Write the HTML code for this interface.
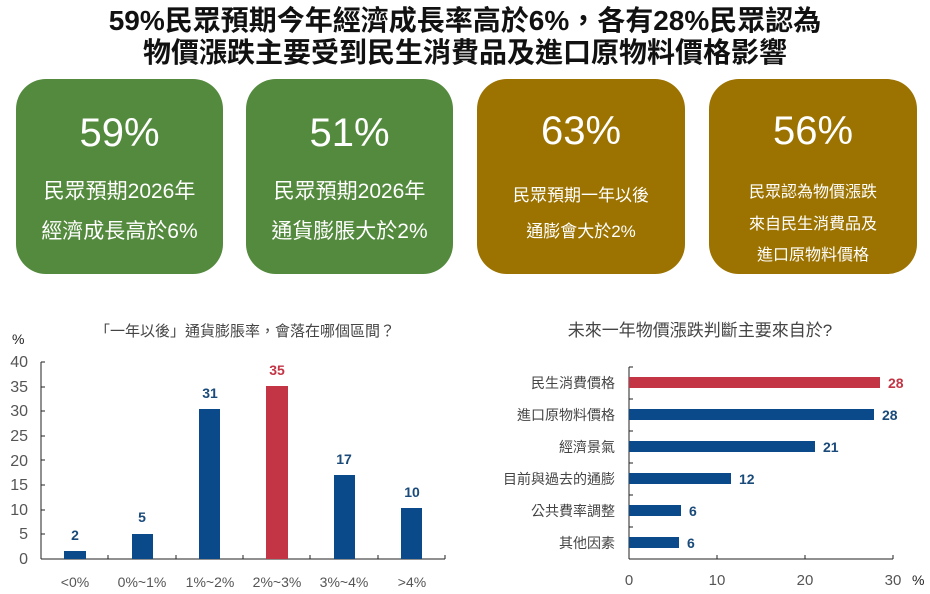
<!DOCTYPE html>
<html><head><meta charset="utf-8"><style>
body{margin:0;width:930px;height:594px;background:#fff;position:relative;overflow:hidden;font-family:"Liberation Sans","Noto Sans CJK TC",sans-serif}
.t{position:absolute;left:0;width:930px;text-align:center;font-weight:bold;font-size:28px;color:#111;line-height:30px}
.card{position:absolute;top:79px;width:207px;height:195px;border-radius:30px;color:#fff;text-align:center}
.g{background:#548a3e}.y{background:#9c7300}
.big{position:absolute;left:0;right:0;font-size:40px;line-height:44px}
.s{position:absolute;left:0;right:0;font-size:21px;line-height:24px}
.s2{font-size:17px}.s3{font-size:16px}
</style></head><body>
<div class="t" style="top:6px">59%民眾預期今年經濟成長率高於6%，各有28%民眾認為</div>
<div class="t" style="top:38px">物價漲跌主要受到民生消費品及進口原物料價格影響</div>
<div class="card g" style="left:16px"><div class="big" style="top:32px">59%</div><div class="s" style="top:101px">民眾預期2026年</div><div class="s" style="top:141px">經濟成長高於6%</div></div>
<div class="card g" style="left:246px"><div class="big" style="top:32px">51%</div><div class="s" style="top:101px">民眾預期2026年</div><div class="s" style="top:141px">通貨膨脹大於2%</div></div>
<div class="card y" style="left:477px;width:208px"><div class="big" style="top:30px">63%</div><div class="s s2" style="top:105px">民眾預期一年以後</div><div class="s s2" style="top:141px">通膨會大於2%</div></div>
<div class="card y" style="left:709px;width:208px"><div class="big" style="top:30px">56%</div><div class="s s3" style="top:102px">民眾認為物價漲跌</div><div class="s s3" style="top:134px">來自民生消費品及</div><div class="s s3" style="top:165px">進口原物料價格</div></div>
<svg width="930" height="594" style="position:absolute;left:0;top:0" font-family="Liberation Sans, Noto Sans CJK TC, sans-serif">
<text x="245" y="336" text-anchor="middle" font-size="15" fill="#444">「一年以後」通貨膨脹率，會落在哪個區間？</text>
<text x="12" y="344" font-size="14" fill="#222">%</text>
<g font-size="16" fill="#555" text-anchor="end">
<text x="28" y="564">0</text><text x="28" y="539">5</text><text x="28" y="515">10</text><text x="28" y="490">15</text><text x="28" y="466">20</text><text x="28" y="441">25</text><text x="28" y="416">30</text><text x="28" y="392">35</text><text x="28" y="367">40</text></g>
<g stroke="#222" stroke-width="1"><line x1="41" y1="362" x2="41" y2="559"/><line x1="41" y1="559" x2="445" y2="559"/>
<line x1="41" y1="362" x2="45" y2="362"/><line x1="41" y1="387" x2="45" y2="387"/><line x1="41" y1="411" x2="45" y2="411"/><line x1="41" y1="436" x2="45" y2="436"/><line x1="41" y1="460" x2="45" y2="460"/><line x1="41" y1="485" x2="45" y2="485"/><line x1="41" y1="510" x2="45" y2="510"/><line x1="41" y1="534" x2="45" y2="534"/>
<line x1="108" y1="555" x2="108" y2="559"/><line x1="176" y1="555" x2="176" y2="559"/><line x1="243" y1="555" x2="243" y2="559"/><line x1="310" y1="555" x2="310" y2="559"/><line x1="378" y1="555" x2="378" y2="559"/><line x1="445" y1="555" x2="445" y2="559"/></g>
<g fill="#0a4a8a"><rect x="64" y="551" width="22" height="8"/><rect x="132" y="534" width="21" height="25"/><rect x="199" y="409" width="21" height="150"/><rect x="334" y="475" width="21" height="84"/><rect x="401" y="508" width="21" height="51"/></g>
<rect x="266" y="386" width="22" height="173" fill="#c33545"/>
<g font-size="14" font-weight="bold" fill="#1a4a7a" text-anchor="middle"><text x="75" y="540">2</text><text x="142" y="522">5</text><text x="210" y="398">31</text><text x="344" y="464">17</text><text x="412" y="497">10</text></g>
<text x="277" y="375" text-anchor="middle" font-size="14" font-weight="bold" fill="#c33545">35</text>
<g font-size="14" fill="#555" text-anchor="middle"><text x="75" y="587">&lt;0%</text><text x="142" y="587">0%~1%</text><text x="210" y="587">1%~2%</text><text x="277" y="587">2%~3%</text><text x="344" y="587">3%~4%</text><text x="412" y="587">&gt;4%</text></g>

<text x="700" y="336" text-anchor="middle" font-size="17" fill="#444">未來一年物價漲跌判斷主要來自於?</text>
<g stroke="#222" stroke-width="1"><line x1="629" y1="367" x2="629" y2="559"/><line x1="629" y1="559" x2="893" y2="559"/>
<line x1="629" y1="367" x2="633" y2="367"/><line x1="629" y1="399" x2="633" y2="399"/><line x1="629" y1="431" x2="633" y2="431"/><line x1="629" y1="463" x2="633" y2="463"/><line x1="629" y1="495" x2="633" y2="495"/><line x1="629" y1="527" x2="633" y2="527"/>
<line x1="717" y1="555" x2="717" y2="559"/><line x1="805" y1="555" x2="805" y2="559"/><line x1="893" y1="555" x2="893" y2="559"/></g>
<rect x="629" y="377" width="251" height="11" fill="#c33545"/>
<g fill="#0a4a8a"><rect x="629" y="409" width="245" height="11"/><rect x="629" y="441" width="186" height="11"/><rect x="629" y="473" width="102" height="11"/><rect x="629" y="505" width="52" height="11"/><rect x="629" y="537" width="50" height="11"/></g>
<text x="888" y="388" font-size="14" font-weight="bold" fill="#c33545">28</text>
<g font-size="14" font-weight="bold" fill="#1a4a7a"><text x="882" y="420">28</text><text x="823" y="452">21</text><text x="739" y="484">12</text><text x="689" y="516">6</text><text x="687" y="548">6</text></g>
<g font-size="14" fill="#444" text-anchor="end"><text x="615" y="388">民生消費價格</text><text x="615" y="420">進口原物料價格</text><text x="615" y="452">經濟景氣</text><text x="615" y="484">目前與過去的通膨</text><text x="615" y="516">公共費率調整</text><text x="615" y="548">其他因素</text></g>
<g font-size="15" fill="#555" text-anchor="middle"><text x="629" y="585">0</text><text x="717" y="585">10</text><text x="805" y="585">20</text><text x="893" y="585">30</text></g>
<text x="912" y="585" font-size="14" fill="#222">%</text>
</svg>
</body></html>
